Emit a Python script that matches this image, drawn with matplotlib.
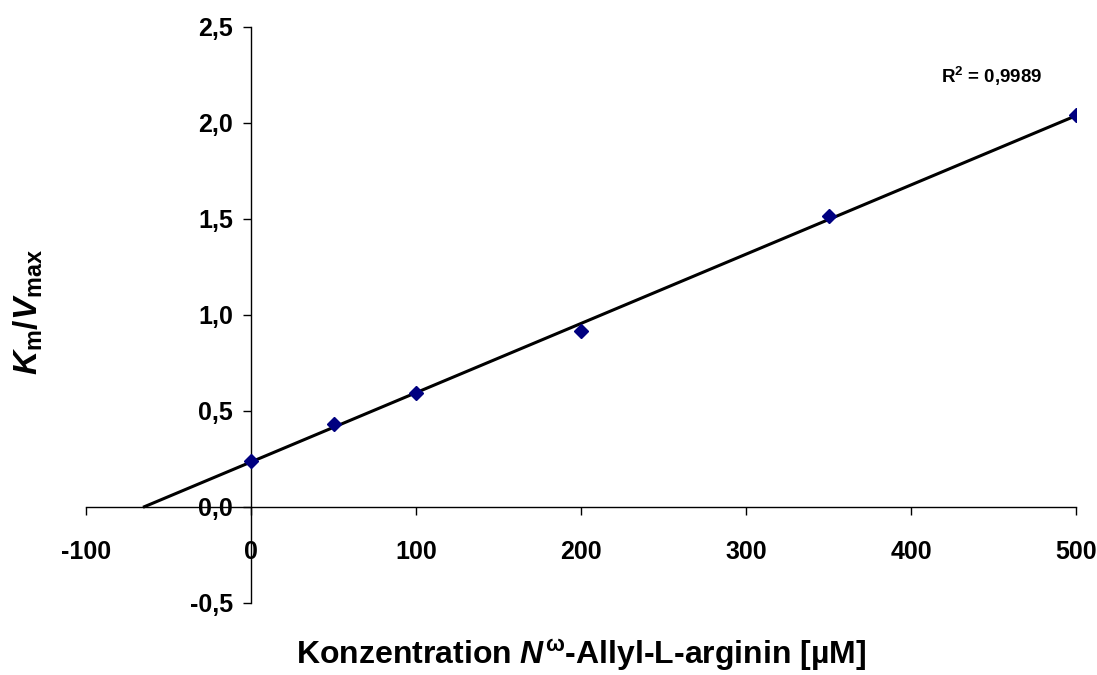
import numpy as np
import matplotlib
matplotlib.use('Agg')
import matplotlib.pyplot as plt
from matplotlib.ticker import FuncFormatter

plt.rcParams['font.family'] = ['Liberation Sans', 'DejaVu Sans']
plt.rcParams['font.weight'] = 'bold'
plt.rcParams['mathtext.fontset'] = 'custom'
plt.rcParams['mathtext.rm'] = 'Liberation Sans:bold'
plt.rcParams['mathtext.it'] = 'Liberation Sans:italic:bold'
plt.rcParams['mathtext.bf'] = 'Liberation Sans:bold'

# Daten
konz = [0, 50, 100, 200, 350, 500]
km_vmax = [0.24, 0.43, 0.59, 0.915, 1.513, 2.04]
r2_text = 'R$^2$ = 0,9989'

x_ticks = [-100, 0, 100, 200, 300, 400, 500]
y_ticks = [-0.5, 0.0, 0.5, 1.0, 1.5, 2.0, 2.5]

# lineare Regression
m, b = np.polyfit(konz, km_vmax, 1)
x_fit = np.array([-b / m, max(konz)])
y_fit = m * x_fit + b

fig = plt.figure(figsize=(10.97, 6.75), dpi=100)
ax = fig.add_axes([0.0784, 0.1071, 0.9026, 0.8533])

ax.plot(x_fit, y_fit, color='black', linewidth=2.2, zorder=2)
ax.plot(konz, km_vmax, linestyle='none', marker='D', markersize=7.5,
        color='#000080', zorder=3)

ax.set_xlim(-100, 500)
ax.set_ylim(-0.5, 2.5)
ax.set_xticks(x_ticks)
ax.set_yticks(y_ticks)

ax.spines['left'].set_position(('data', 0))
ax.spines['bottom'].set_position(('data', 0))
ax.spines['top'].set_visible(False)
ax.spines['right'].set_visible(False)
for s in ['left', 'bottom']:
    ax.spines[s].set_linewidth(1.0)
    ax.spines[s].set_color('black')

ax.xaxis.set_major_formatter(FuncFormatter(lambda v, p: f'{v:.0f}'))
ax.yaxis.set_major_formatter(FuncFormatter(lambda v, p: f'{v:.1f}'.replace('.', ',')))
ax.tick_params(axis='x', direction='out', length=6, width=1, pad=18, labelsize=18)
ax.tick_params(axis='y', direction='out', length=6, width=1, pad=7, labelsize=18)

fig.text(0.904, 0.886, r2_text, fontsize=13.5, fontweight='bold',
         ha='center', va='center')

fig.text(0.530, 0.017, r'Konzentration $N^{\mathrm{ω}}$-Allyl-L-arginin [µM]',
         ha='center', va='baseline', fontsize=23, fontweight='bold')
fig.text(0.0255, 0.538, r'$K_{\mathrm{m}}/V_{\mathrm{max}}$', rotation=90,
         ha='center', va='center', fontsize=24, fontweight='bold')

fig.savefig('out.png', dpi=100)
